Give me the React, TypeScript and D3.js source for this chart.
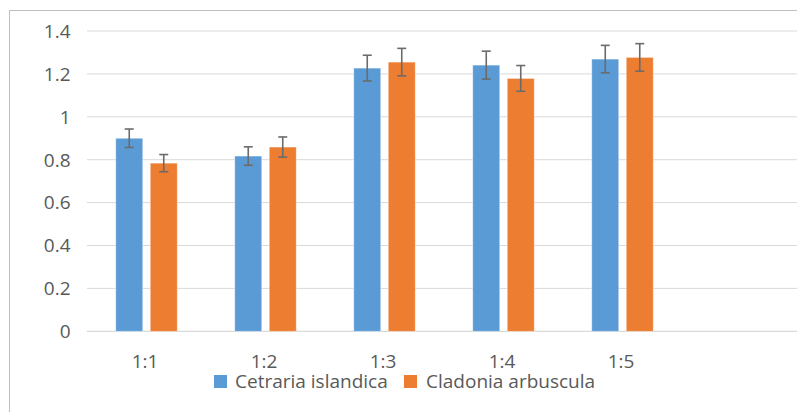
import React from "react";
import * as d3 from "d3";

const categories = ["1:1", "1:2", "1:3", "1:4", "1:5"];
const seriesNames = ["Cetraria islandica", "Cladonia arbuscula"];
const cetraria = [0.90, 0.817, 1.227, 1.241, 1.269];
const cetrariaErr = [0.043, 0.043, 0.06, 0.065, 0.064];
const cladonia = [0.784, 0.859, 1.255, 1.179, 1.277];
const cladoniaErr = [0.04, 0.047, 0.064, 0.06, 0.064];
const yTicks = [0, 0.2, 0.4, 0.6, 0.8, 1, 1.2, 1.4];
const colors = ["#5B9BD5", "#ED7D31"];

const W = 797;
const H = 412;
const left = 87;
const slotW = 119;
const y0 = 331.3;
const yTop = 31;

export default function App() {
  const slots = [...categories, ""];
  const x = d3.scaleBand<string>().domain(slots.map((s, i) => String(i))).range([left, left + slotW * slots.length]);
  const y = d3.scaleLinear().domain([0, 1.4]).range([y0, yTop]);
  const barW = 27;
  const gap = 7.5;
  const series = [
    { name: seriesNames[0], vals: cetraria, errs: cetrariaErr, color: colors[0] },
    { name: seriesNames[1], vals: cladonia, errs: cladoniaErr, color: colors[1] },
  ];
  const font = "'Open Sans', sans-serif";
  const fs = 19;
  const txt = "#595959";
  return (
    <svg width={W} height={H} style={{ position: "absolute", left: 0, top: 0, background: "#fff" }}>
      <rect x={9.5} y={10.5} width={W + 10} height={H + 10} fill="#fff" stroke="#BFBFBF" strokeWidth={1} />
      {yTicks.map((t) => (
        <g key={t}>
          <line x1={left} x2={left + slotW * slots.length} y1={y(t)} y2={y(t)} stroke="#D9D9D9" strokeWidth={t === 0 ? 1.3 : 1} />
          <text x={70.5} y={y(t)} dy="0.36em" textAnchor="end" fontFamily={font} fontSize={fs} fill={txt}>
            {String(t)}
          </text>
        </g>
      ))}
      {categories.map((c, i) => {
        const cx = x(String(i))! + x.bandwidth() / 2;
        return (
          <g key={c}>
            {series.map((s, j) => {
              const bx = cx - gap / 2 - barW + j * (barW + gap);
              const v = s.vals[i];
              const e = s.errs[i];
              const mx = bx + barW / 2;
              return (
                <g key={s.name}>
                  <rect x={bx} y={y(v)} width={barW} height={y(0) - y(v)} fill={s.color} stroke="#fff" strokeOpacity={0.5} strokeWidth={0.8} />
                  <g stroke="#6b6b6b" strokeWidth={1.6}>
                    <line x1={mx} x2={mx} y1={y(v + e)} y2={y(v - e)} />
                    <line x1={mx - 4.5} x2={mx + 4.5} y1={y(v + e)} y2={y(v + e)} />
                    <line x1={mx - 4.5} x2={mx + 4.5} y1={y(v - e)} y2={y(v - e)} />
                  </g>
                </g>
              );
            })}
            <text x={cx - 1.5} y={368} textAnchor="middle" fontFamily={font} fontSize={fs} fill={txt}>
              {c}
            </text>
          </g>
        );
      })}
      <g fontFamily={font} fontSize={fs} fill={txt}>
        <rect x={214} y={375} width={13} height={13} fill={colors[0]} />
        <text x={235} y={388}>{seriesNames[0]}</text>
        <rect x={404} y={375} width={13} height={13} fill={colors[1]} />
        <text x={426} y={388}>{seriesNames[1]}</text>
      </g>
    </svg>
  );
}
